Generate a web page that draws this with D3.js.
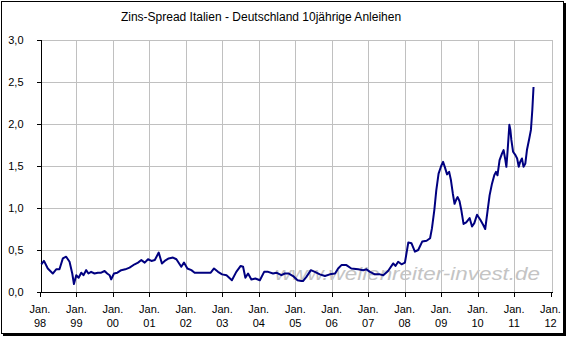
<!DOCTYPE html>
<html>
<head>
<meta charset="utf-8">
<script src="https://cdn.jsdelivr.net/npm/d3@7"></script>
<style>
  html, body { margin: 0; padding: 0; background: #fff; }
  svg { display: block; }
  text { font-family: "Liberation Sans", Arial, sans-serif; fill: #000; }
</style>
</head>
<body>
<svg id="chart" width="568" height="338"></svg>
<script>
// Spread Italien - Deutschland, 10-jährige Staatsanleihen (Prozentpunkte)
const dates = [
  "1998-01-14","1998-02-10","1998-03-20","1998-05-09","1998-06-12","1998-07-15","1998-08-18","1998-09-20",
  "1998-10-24","1998-11-20","1998-12-07","1998-12-30","1999-01-23","1999-02-18","1999-03-12","1999-04-08",
  "1999-05-01","1999-05-28","1999-07-01","1999-08-03","1999-09-06","1999-10-10","1999-11-05","1999-11-29",
  "1999-12-15","2000-01-12","2000-02-15","2000-03-25","2000-05-04","2000-06-16","2000-08-06","2000-09-09",
  "2000-10-12","2000-11-15","2000-12-18","2001-01-21","2001-02-24","2001-04-04","2001-05-06","2001-06-03",
  "2001-07-13","2001-08-25","2001-09-28","2001-11-16","2001-12-13","2002-01-16","2002-02-25","2002-03-30",
  "2002-06-04","2002-09-07","2002-10-10","2002-11-19","2002-12-30","2003-02-12","2003-04-07","2003-05-21",
  "2003-07-04","2003-07-28","2003-08-20","2003-09-16","2003-10-19","2003-11-28","2004-01-12","2004-02-24",
  "2004-04-04","2004-05-23","2004-06-25","2004-08-15","2004-09-18","2004-10-28","2004-12-10","2005-01-23",
  "2005-03-03","2005-03-19","2005-04-22","2005-06-06","2005-07-16","2005-09-04","2005-10-25","2005-12-13",
  "2006-02-03","2006-03-06","2006-04-08","2006-05-28","2006-07-16","2006-09-23","2006-11-12","2006-12-15",
  "2007-01-19","2007-03-09","2007-04-28","2007-06-01","2007-07-19","2007-09-09","2007-10-01","2007-10-28",
  "2007-12-01","2008-01-04","2008-02-07","2008-03-10","2008-04-13","2008-05-16","2008-06-25","2008-08-08",
  "2008-09-12","2008-10-01","2008-10-25","2008-11-13","2008-12-06","2009-01-01","2009-01-20","2009-02-06",
  "2009-03-01","2009-03-22","2009-04-09","2009-04-28","2009-05-15","2009-06-01","2009-06-15","2009-07-04",
  "2009-07-21","2009-08-13","2009-09-09","2009-10-13","2009-11-06","2009-11-29","2009-12-26","2010-01-28",
  "2010-02-25","2010-03-18","2010-04-10","2010-05-01","2010-05-25","2010-06-17","2010-07-04","2010-07-19",
  "2010-08-09","2010-09-03","2010-09-18","2010-10-06","2010-10-16","2010-10-29","2010-11-15","2010-11-25",
  "2010-12-05","2010-12-22","2011-01-15","2011-02-01","2011-02-17","2011-03-04","2011-03-21","2011-04-06",
  "2011-04-24","2011-05-10","2011-06-03","2011-06-19","2011-07-03","2011-07-15"
];
const spread = [
  0.33,0.37,0.28,0.22,0.27,0.27,0.40,0.42,
  0.36,0.22,0.095,0.20,0.17,0.23,0.20,0.26,
  0.22,0.24,0.22,0.23,0.23,0.25,0.22,0.20,
  0.15,0.22,0.23,0.26,0.27,0.29,0.33,0.35,
  0.38,0.35,0.39,0.37,0.38,0.47,0.34,0.37,
  0.40,0.41,0.39,0.30,0.35,0.28,0.26,0.23,
  0.23,0.23,0.28,0.24,0.21,0.20,0.14,0.24,
  0.31,0.30,0.17,0.22,0.15,0.16,0.14,0.24,
  0.24,0.22,0.23,0.20,0.22,0.22,0.19,0.14,
  0.13,0.13,0.18,0.26,0.24,0.21,0.19,0.21,
  0.22,0.28,0.32,0.32,0.28,0.27,0.26,0.27,
  0.24,0.21,0.21,0.20,0.25,0.34,0.31,0.36,
  0.33,0.35,0.59,0.58,0.48,0.50,0.60,0.61,
  0.64,0.76,0.98,1.21,1.41,1.50,1.55,1.49,
  1.40,1.43,1.33,1.17,1.05,1.10,1.13,1.08,
  0.98,0.81,0.83,0.88,0.78,0.82,0.92,0.86,
  0.80,0.75,0.96,1.15,1.29,1.39,1.43,1.39,
  1.57,1.65,1.69,1.57,1.49,1.69,1.99,1.93,
  1.81,1.67,1.63,1.59,1.49,1.55,1.59,1.49,
  1.53,1.69,1.83,1.93,2.17,2.44
];
const yTicks = [0, 0.5, 1, 1.5, 2, 2.5, 3];
const yearTicks = ["98","99","00","01","02","03","04","05","06","07","08","09","10","11","12"];
const title = "Zins-Spread Italien - Deutschland 10jährige Anleihen";
const watermark = "www.wellenreiter-invest.de";

const parse = d3.timeParse("%Y-%m-%d");
const series = dates.map((d, i) => ({ date: parse(d), value: spread[i] }));
const yearDates = yearTicks.map(y => new Date(+(y < "50" ? "20" + y : "19" + y), 0, 1));

const svg = d3.select("#chart");
const plot = { left: 40, right: 552, top: 40, bottom: 292 };

const x = d3.scaleTime()
  .domain([yearDates[0], yearDates[yearDates.length - 1]])
  .range([plot.left, 550.5]);
const y = d3.scaleLinear().domain([0, 3]).range([plot.bottom, plot.top]);

const comma = d3.formatLocale({ decimal: ",", thousands: ".", grouping: [3], currency: ["", " €"] }).format(".1f");

// outer frame with drop shadow
svg.append("rect").attr("x", 3).attr("y", 3).attr("width", 563).attr("height", 333).attr("fill", "#000");
svg.append("rect").attr("x", 1.5).attr("y", 1.5).attr("width", 562).attr("height", 332)
  .attr("fill", "#fff").attr("stroke", "#000").attr("stroke-width", 1);

// title
svg.append("text").attr("x", 261).attr("y", 21).attr("text-anchor", "middle")
  .attr("font-size", 12).text(title);

// grid
const grid = svg.append("g").attr("stroke", "#c0c0c0").attr("stroke-width", 1).attr("shape-rendering", "crispEdges");
grid.selectAll("line.h").data(yTicks.filter(v => v > 0)).join("line")
  .attr("x1", plot.left).attr("x2", plot.right)
  .attr("y1", d => Math.round(y(d)) + 0.5).attr("y2", d => Math.round(y(d)) + 0.5);
grid.selectAll("line.v").data(yearDates.slice(1, -1)).join("line")
  .attr("x1", d => Math.round(x(d)) + 0.5).attr("x2", d => Math.round(x(d)) + 0.5)
  .attr("y1", plot.top).attr("y2", plot.bottom);
grid.append("line").attr("x1", plot.right + 0.5).attr("x2", plot.right + 0.5)
  .attr("y1", plot.top).attr("y2", plot.bottom);

// watermark
svg.append("text").attr("x", 275).attr("y", 280)
  .attr("font-size", 18).attr("font-style", "italic")
  .attr("textLength", 265).attr("lengthAdjust", "spacingAndGlyphs")
  .style("fill", "#c4c4c4").text(watermark);

// axes
const yAxis = d3.axisLeft(y).tickValues(yTicks).tickSize(4).tickPadding(13).tickFormat(comma);
const gy = svg.append("g").attr("transform", `translate(${plot.left + 0.5},0)`).call(yAxis);
const xAxis = d3.axisBottom(x).tickValues(yearDates).tickSize(4).tickFormat(() => "");
const gx = svg.append("g").attr("transform", `translate(0,${plot.bottom + 0.5})`).call(xAxis);
[gy, gx].forEach(g => {
  g.select(".domain").attr("stroke", "#000");
  g.selectAll(".tick line").attr("stroke", "#000");
  g.attr("shape-rendering", "crispEdges");
});
gx.select(".domain").attr("d", `M${plot.left},0H${plot.right + 1}`);
gy.selectAll(".tick text").attr("font-size", 11).attr("font-family", "'Liberation Sans', Arial, sans-serif");

// two-line year labels
const xl = svg.append("g").attr("font-size", 11);
xl.selectAll("text.m").data(yearDates).join("text")
  .attr("x", d => x(d)).attr("y", 313).attr("text-anchor", "middle").text("Jan.");
xl.selectAll("text.y").data(yearDates).join("text")
  .attr("x", d => x(d)).attr("y", 327).attr("text-anchor", "middle").text((d, i) => yearTicks[i]);

// spread line
svg.append("path").datum(series)
  .attr("fill", "none").attr("stroke", "#000080").attr("stroke-width", 2)
  .attr("stroke-linejoin", "round")
  .attr("d", d3.line().x(d => x(d.date)).y(d => y(d.value)));
</script>
</body>
</html>
